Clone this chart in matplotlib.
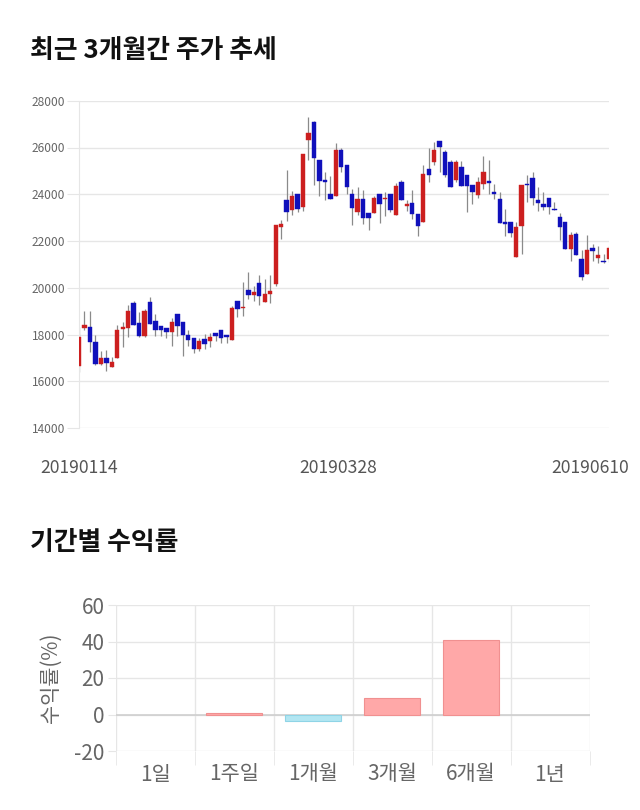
import numpy as np
import matplotlib.pyplot as plt

plt.rcParams['font.family'] = ['Noto Sans CJK KR', 'DejaVu Sans']
plt.rcParams['axes.unicode_minus'] = False

# daily candles, 20190114 .. 20190610
opens = [16650, 18270, 18340, 17700, 16740, 17000, 16630, 17000, 18230, 18290,
         19370, 18500, 17930, 19410, 18600, 18390, 18290, 18100, 18890, 18560,
         17990, 17860, 17380, 17810, 17740, 18060, 18200, 17990, 17790, 19460,
         19140, 19910, 19710, 20210, 19400, 19740, 20170, 22600, 23740, 23310,
         24030, 23460, 26310, 27100, 25460, 24600, 24030, 23910, 25890, 25240,
         24030, 23240, 23810, 23210, 23200, 24030, 23790, 24030, 23100, 24530,
         23500, 23630, 23160, 22810, 25060, 25360, 26290, 25790, 25390, 24630,
         25170, 24810, 24390, 23960, 24430, 24570, 24100, 23820, 22810, 22810,
         21340, 22630, 24460, 24710, 23740, 23600, 23860, 23390, 23030, 22810,
         21670, 22310, 21240, 20600, 21710, 21270, 21170, 21240]
highs = [18350, 19030, 19000, 17990, 17290, 17340, 17030, 18430, 18530, 19290,
         19450, 18960, 19100, 19630, 18890, 18390, 18290, 18700, 18890, 18560,
         18200, 17860, 17880, 18030, 18060, 18060, 18200, 17990, 19240, 19460,
         20240, 20670, 20100, 20530, 20390, 20570, 22670, 22910, 25030, 24140,
         24030, 25740, 27310, 27140, 25460, 24960, 24770, 26200, 26000, 25240,
         24240, 24310, 24170, 23210, 23920, 24030, 24100, 24030, 24490, 24630,
         23740, 24200, 23160, 25240, 26000, 26240, 26290, 25890, 25460, 25460,
         25430, 24810, 24390, 24740, 25630, 25460, 24430, 24100, 23390, 22810,
         22810, 24400, 24810, 24960, 24310, 24100, 23860, 23670, 23200, 22810,
         22390, 22390, 21630, 22240, 21890, 21770, 21460, 21810]
lows = [16400, 18200, 17240, 16700, 16710, 16460, 16600, 17000, 17480, 17890,
        18400, 17900, 17900, 18440, 17960, 17960, 17860, 17530, 17960, 17100,
        17530, 17200, 17310, 17380, 17490, 17720, 17630, 17630, 17790, 18740,
        18810, 19530, 19430, 19290, 19400, 19360, 20100, 22100, 22880, 23100,
        23240, 23290, 25460, 24390, 23930, 23770, 23820, 23910, 24960, 24000,
        22680, 23100, 22740, 22490, 23200, 22770, 23060, 23240, 23100, 23740,
        23290, 22960, 22230, 22810, 24530, 25260, 24960, 24730, 24310, 24530,
        24360, 23240, 23590, 23860, 24240, 24000, 23820, 22770, 22200, 22160,
        21340, 21460, 23670, 23530, 23290, 23310, 23140, 23310, 22030, 21670,
        21170, 21410, 20340, 20600, 21170, 21060, 21060, 21100]
closes = [17900, 18410, 17670, 16740, 17000, 16810, 16840, 18200, 18310, 19000,
          18430, 17930, 19000, 18460, 18200, 18200, 18100, 18560, 18390, 17990,
          17790, 17380, 17740, 17600, 17910, 17930, 17860, 17890, 19140, 19090,
          19200, 19700, 19810, 19640, 19740, 19860, 22670, 22710, 23240, 23910,
          23360, 25740, 26600, 25530, 24570, 24530, 23820, 25890, 25170, 24310,
          23410, 23810, 23000, 23000, 23860, 23600, 23860, 23310, 24370, 23740,
          23600, 23140, 22630, 24870, 24840, 25890, 26030, 24840, 24310, 25390,
          24360, 24360, 24100, 24530, 24960, 24490, 24010, 22770, 22710, 22340,
          22600, 24400, 24390, 23860, 23630, 23460, 23460, 23310, 22600, 21670,
          22270, 21410, 20450, 21600, 21560, 21410, 21100, 21700]
date_labels = ['20190114', '20190328', '20190610']

periods = ['1일', '1주일', '1개월', '3개월', '6개월', '1년']
returns = [0, 0.7, -3.7, 9.2, 40.9, 0]

fig = plt.figure(figsize=(6.4, 8.1), dpi=100)

# ---- candle chart
ax = fig.add_axes([79 / 640, 1 - 428.3 / 810, 530 / 640, 327.6 / 810])
o = np.array(opens)
h = np.array(highs)
l = np.array(lows)
c = np.array(closes)
x = np.arange(len(o))
up = c >= o
cols = np.where(up, '#cc1f1f', '#1010bb')
ax.vlines(x, l, h, color='#8a8a8a', linewidth=0.9, zorder=2)
body = np.maximum(np.abs(c - o), 60)
ax.bar(x, body, bottom=np.minimum(o, c), width=0.8, color=cols,
       edgecolor=cols, linewidth=0.3, zorder=3)

ax.set_xlim(0, len(o) - 1)
ax.set_ylim(14000, 28000)
ax.set_yticks(np.arange(14000, 28001, 2000))
ax.grid(axis='y', color='#e6e6e6', linewidth=1)
ax.set_axisbelow(True)
for s in ['top', 'right', 'bottom']:
    ax.spines[s].set_visible(False)
ax.spines['left'].set_color('#e6e6e6')
ax.tick_params(axis='y', length=9, color='#e6e6e6', pad=1, labelsize=8.6,
               labelcolor='#666666')
ax.set_xticks([0, 47.5, 93.5])
ax.set_xticklabels(date_labels)
ax.tick_params(axis='x', length=0, pad=22, labelsize=12.6, labelcolor='#555555')

fig.text(30 / 640, 1 - 50 / 810, '최근 3개월간 주가 추세', fontsize=18.6,
         fontweight='bold', color='#111111', va='center', ha='left')
fig.text(30 / 640, 1 - 543 / 810, '기간별 수익률', fontsize=18.6,
         fontweight='bold', color='#111111', va='center', ha='left')

# ---- returns bar chart
ax2 = fig.add_axes([115.5 / 640, 1 - 751 / 810, 474 / 640, 146 / 810])
bx = np.arange(len(periods))
r = np.array(returns)
bcol = np.where(r >= 0, '#ffa8a8', '#b2e6f2')
ecol = np.where(r >= 0, '#f09090', '#8fd4e6')
lw = np.where(r == 0, 0, 0.8)
ax2.bar(bx, r, width=0.7, color=bcol, edgecolor=ecol, linewidth=lw, zorder=3)
ax2.set_xlim(-0.5, len(periods) - 0.5)
ax2.set_ylim(-20, 60)
ax2.set_yticks([-20, 0, 20, 40, 60])
ax2.set_xticks(bx)
ax2.set_xticklabels(periods)
ax2.set_xticks(np.arange(-0.5, len(periods)), minor=True)
ax2.grid(axis='y', color='#e6e6e6', linewidth=1)
ax2.grid(axis='x', which='minor', color='#e6e6e6', linewidth=1)
ax2.axhline(0, color='#cfcfcf', linewidth=1.2, zorder=2)
ax2.set_axisbelow(True)
for s in ax2.spines.values():
    s.set_visible(False)
ax2.tick_params(axis='x', which='major', length=0, pad=9, labelsize=15,
                labelcolor='#666666')
ax2.tick_params(axis='x', which='minor', length=10, color='#e6e6e6')
ax2.tick_params(axis='y', length=6, color='#e6e6e6', pad=2, labelsize=15,
                labelcolor='#666666')
ax2.set_ylabel('수익률(%)', fontsize=15, color='#666666', labelpad=9)

fig.savefig('out.png', dpi=100, facecolor='white')
